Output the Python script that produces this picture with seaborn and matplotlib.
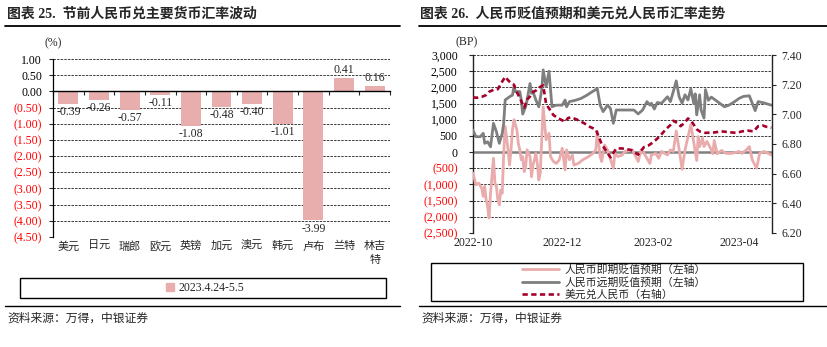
import numpy as np
import pandas as pd
import matplotlib
matplotlib.use("Agg")
import matplotlib.pyplot as plt
import matplotlib.dates as mdates
from matplotlib.patches import Rectangle, Patch
from matplotlib.lines import Line2D
import seaborn as sns

# ---------------- data: currency moves before the holiday ----------------
currencies = ["美元", "日元", "瑞郎", "欧元", "英镑", "加元", "澳元", "韩元", "卢布", "兰特", "林吉\n特"]
cny_change_pct = [-0.39, -0.26, -0.57, -0.11, -1.08, -0.48, -0.40, -1.01, -3.99, 0.41, 0.16]
period_label = "2023.4.24-5.5"
pct_ticks = [1.0, 0.5, 0.0, -0.5, -1.0, -1.5, -2.0, -2.5, -3.0, -3.5, -4.0, -4.5]

# ---------------- data: depreciation expectations (BP) and USD/CNY ----------------
spot_dates = [
    "2022-10-01", "2022-10-03", "2022-10-05", "2022-10-07", "2022-10-08", "2022-10-09", "2022-10-10",
    "2022-10-11", "2022-10-12", "2022-10-13", "2022-10-15", "2022-10-16", "2022-10-17", "2022-10-18",
    "2022-10-19", "2022-10-20", "2022-10-21", "2022-10-22", "2022-10-23", "2022-10-25", "2022-10-26",
    "2022-10-27", "2022-10-28", "2022-10-29", "2022-10-31", "2022-11-01", "2022-11-02", "2022-11-03",
    "2022-11-04", "2022-11-05", "2022-11-06", "2022-11-07", "2022-11-09", "2022-11-10", "2022-11-11",
    "2022-11-12", "2022-11-13", "2022-11-14", "2022-11-15", "2022-11-16", "2022-11-17", "2022-11-18",
    "2022-11-20", "2022-11-22", "2022-11-23", "2022-11-25", "2022-11-27", "2022-11-29", "2022-12-01",
    "2022-12-03", "2022-12-04", "2022-12-06", "2022-12-08", "2022-12-09", "2022-12-12", "2022-12-15",
    "2022-12-19", "2022-12-22", "2022-12-24", "2022-12-25", "2022-12-27", "2022-12-28", "2022-12-30",
    "2023-01-01", "2023-01-05", "2023-01-06", "2023-01-08", "2023-01-11", "2023-01-13", "2023-01-18",
    "2023-01-22", "2023-01-24", "2023-01-26", "2023-01-30", "2023-01-31", "2023-02-03", "2023-02-05",
    "2023-02-07", "2023-02-09", "2023-02-11", "2023-02-13", "2023-02-15", "2023-02-17", "2023-02-19",
    "2023-02-21", "2023-02-23", "2023-02-27", "2023-03-03", "2023-03-04", "2023-03-05", "2023-03-07",
    "2023-03-08", "2023-03-10", "2023-03-13", "2023-03-14", "2023-03-15", "2023-03-17", "2023-03-20",
    "2023-03-23", "2023-03-27", "2023-04-01", "2023-04-03", "2023-04-06", "2023-04-08", "2023-04-10",
    "2023-04-13", "2023-04-15", "2023-04-18", "2023-04-21", "2023-04-23",
]
spot_bp = [
    -650, -1010, -960, -1120, -1370, -1060, -1480,
    -1680, -2040, -1270, -190, -960, -1070, -1480,
    -1630, -1170, -1270, -40, 790, 70, -400,
    70, 690, 1000, 690, 270, 70, -240,
    -140, -600, -450, 70, -140, -760, -400,
    -240, -40, -350, -860, -650, 380, 1400,
    380, 580, -140, -290, -350, -240, 120,
    -550, 70, -240, -90, -400, -350, -240,
    -140, -40, 70, 630, -140, -290, 220,
    70, -500, -40, -140, -90, 20, 70,
    -290, 70, -40, -350, -90, -40, -190,
    20, -40, -90, 70, 20, 650, 70,
    -530, 70, 850, -260, 480, 170, 430,
    170, 330, 70, -50, 360, -50, 50,
    -40, -40, 20, -40, 70, 170, -240,
    -500, -40, 20, -40, -90,
]

fwd_dates = [
    "2022-10-01", "2022-10-03", "2022-10-06", "2022-10-08", "2022-10-09", "2022-10-11", "2022-10-13",
    "2022-10-15", "2022-10-17", "2022-10-19", "2022-10-21", "2022-10-22", "2022-10-23", "2022-10-26",
    "2022-10-28", "2022-10-29", "2022-10-30", "2022-11-02", "2022-11-03", "2022-11-04", "2022-11-06",
    "2022-11-07", "2022-11-09", "2022-11-10", "2022-11-11", "2022-11-13", "2022-11-15", "2022-11-17",
    "2022-11-18", "2022-11-20", "2022-11-22", "2022-11-24", "2022-11-27", "2022-12-01", "2022-12-03",
    "2022-12-04", "2022-12-06", "2022-12-10", "2022-12-14", "2022-12-18", "2022-12-21", "2022-12-25",
    "2022-12-27", "2022-12-29", "2023-01-01", "2023-01-03", "2023-01-05", "2023-01-07", "2023-01-12",
    "2023-01-19", "2023-01-22", "2023-01-25", "2023-01-28", "2023-01-30", "2023-01-31", "2023-02-02",
    "2023-02-04", "2023-02-07", "2023-02-09", "2023-02-11", "2023-02-13", "2023-02-15", "2023-02-17",
    "2023-02-19", "2023-02-21", "2023-02-23", "2023-02-25", "2023-02-27", "2023-03-01", "2023-03-02",
    "2023-03-03", "2023-03-05", "2023-03-06", "2023-03-08", "2023-03-09", "2023-03-11", "2023-03-13",
    "2023-03-16", "2023-03-19", "2023-03-22", "2023-03-25", "2023-03-29", "2023-04-01", "2023-04-04",
    "2023-04-08", "2023-04-12", "2023-04-14", "2023-04-18", "2023-04-23",
]
fwd_bp = [
    680, 475, 475, 580, 270, 320, 165,
    890, 630, 270, 580, 890, 1610, 1710,
    1760, 2020, 1870, 1870, 1610, 1175, 1400,
    1610, 2120, 1815, 1870, 1610, 1400, 1920,
    2540, 2020, 2500, 1400, 1450, 1450, 1610,
    1400, 1560, 1600, 1660, 1760, 1850, 1960,
    1450, 1250, 1450, 1350, 890, 1300, 1300,
    1300, 1180, 1300, 1560, 1450, 1510, 1330,
    1530, 1510, 1610, 1710, 1560, 1870, 2200,
    1710, 1510, 1770, 1610, 1950, 1500, 1800,
    1150, 1770, 1300, 1050, 1930, 1600, 1700,
    1600, 1500, 1400, 1450, 1560, 1660, 1720,
    1740, 1280, 1560, 1520, 1450,
]

usdcny_dates = [
    "2022-10-01", "2022-10-04", "2022-10-07", "2022-10-10", "2022-10-12", "2022-10-15", "2022-10-18",
    "2022-10-20", "2022-10-23", "2022-10-25", "2022-10-27", "2022-10-29", "2022-10-31", "2022-11-03",
    "2022-11-05", "2022-11-07", "2022-11-09", "2022-11-11", "2022-11-13", "2022-11-15", "2022-11-17",
    "2022-11-18", "2022-11-20", "2022-11-22", "2022-11-25", "2022-11-28", "2022-11-30", "2022-12-03",
    "2022-12-05", "2022-12-07", "2022-12-11", "2022-12-16", "2022-12-20", "2022-12-24", "2022-12-26",
    "2022-12-28", "2022-12-31", "2023-01-03", "2023-01-05", "2023-01-07", "2023-01-11", "2023-01-17",
    "2023-01-22", "2023-01-26", "2023-01-29", "2023-02-01", "2023-02-03", "2023-02-06", "2023-02-10",
    "2023-02-13", "2023-02-15", "2023-02-18", "2023-02-20", "2023-02-23", "2023-02-25", "2023-02-27",
    "2023-03-01", "2023-03-03", "2023-03-05", "2023-03-09", "2023-03-15", "2023-03-20", "2023-03-25",
    "2023-03-30", "2023-04-03", "2023-04-07", "2023-04-11", "2023-04-14", "2023-04-17", "2023-04-20",
    "2023-04-23",
]
usdcny = [
    7.114, 7.112, 7.118, 7.130, 7.152, 7.165, 7.170,
    7.205, 7.253, 7.230, 7.210, 7.200, 7.150, 7.090,
    7.045, 7.100, 7.120, 7.150, 7.160, 7.180, 7.190,
    7.196, 7.070, 7.040, 6.995, 6.975, 6.965, 6.950,
    6.975, 6.980, 6.965, 6.940, 6.915, 6.898, 6.848,
    6.800, 6.755, 6.710, 6.740, 6.770, 6.770, 6.760,
    6.728, 6.780, 6.790, 6.810, 6.827, 6.855, 6.900,
    6.928, 6.957, 6.940, 6.920, 6.945, 6.972, 6.960,
    6.930, 6.900, 6.885, 6.875, 6.878, 6.885, 6.880,
    6.875, 6.885, 6.890, 6.885, 6.920, 6.925, 6.915,
    6.910,
]
bp_ticks = [3000, 2500, 2000, 1500, 1000, 500, 0, -500, -1000, -1500, -2000, -2500]
fx_ticks = [6.2, 6.4, 6.6, 6.8, 7.0, 7.2, 7.4]
month_ticks = ["2022-10-01", "2022-12-01", "2023-02-01", "2023-04-01"]
month_labels = ["2022-10", "2022-12", "2023-02", "2023-04"]
series_names = ["人民币即期贬值预期（左轴）", "人民币远期贬值预期（左轴）", "美元兑人民币（右轴）"]

# ---------------- style ----------------
sns.set_style("white")
plt.rcParams["font.family"] = ["Liberation Serif", "Noto Sans CJK SC"]
plt.rcParams["axes.unicode_minus"] = False
CJK = ["Noto Sans CJK SC"]
MIX = ["Liberation Serif", "Noto Sans CJK SC"]

BAR_PINK = "#E8AEAE"
SPOT_PINK = "#E9ABAB"
FWD_GREY = "#7F7F7F"
USD_RED = "#A6002A"
NEG_RED = "#FF0000"
GRID_KW = dict(color="#3a3a3a", linestyle=(0, (2.5, 1.2)), linewidth=0.7)

W, H = 828, 347
fig = plt.figure(figsize=(W / 100, H / 100), dpi=100)


def fx(px):
    return px / W


def fy(py):
    return 1 - py / H


def axes_rect(x0, y0, x1, y1):
    return [fx(x0), fy(y1), (x1 - x0) / W, (y1 - y0) / H]


# ---------------- headers, rules and sources ----------------
fig.text(fx(7), fy(14), "图表 25.  节前人民币兑主要货币汇率波动", family=MIX, weight="bold",
         fontsize=10, va="center", ha="left")
fig.text(fx(420), fy(14), "图表 26.  人民币贬值预期和美元兑人民币汇率走势", family=MIX, weight="bold",
         fontsize=10, va="center", ha="left")
for x0, x1 in [(5, 400), (419, 828)]:
    fig.add_artist(Line2D([fx(x0), fx(x1)], [fy(26), fy(26)], color="black", lw=1.3))
    fig.add_artist(Line2D([fx(x0), fx(x1)], [fy(306), fy(306)], color="black", lw=1.0))
fig.text(fx(7), fy(318), "资料来源：万得，中银证券", family=CJK, fontsize=8.5, va="center", ha="left")
fig.text(fx(421), fy(318), "资料来源：万得，中银证券", family=CJK, fontsize=8.5, va="center", ha="left")

# ---------------- left panel: bar chart ----------------
ax = fig.add_axes(axes_rect(53, 59, 390, 237))
sns.barplot(x=currencies, y=cny_change_pct, color=BAR_PINK, saturation=1, width=0.65,
            edgecolor="none", ax=ax, zorder=3)
ax.set_xlim(-0.5, len(currencies) - 0.5)
ax.set_ylim(pct_ticks[-1], pct_ticks[0])
ax.set_xlabel("")
ax.set_ylabel("")
ax.set_yticks(pct_ticks)
ax.set_yticklabels([f"{t:.2f}" if t >= 0 else f"({-t:.2f})" for t in pct_ticks])
for lbl, t in zip(ax.get_yticklabels(), pct_ticks):
    lbl.set_color(NEG_RED if t < 0 else "black")
ax.tick_params(axis="y", direction="out", length=3, width=0.8, pad=5, labelsize=8.5, left=True)
for t in pct_ticks:
    if t != 0:
        ax.axhline(t, zorder=1, **GRID_KW)
for side in ["top", "right"]:
    ax.spines[side].set_visible(False)
ax.spines["left"].set_color("black")
ax.spines["left"].set_linewidth(0.9)
ax.spines["bottom"].set_position(("data", 0))
ax.spines["bottom"].set_color("black")
ax.spines["bottom"].set_linewidth(1.0)
ax.spines["bottom"].set_zorder(4)
ax.set_xticks(np.arange(-0.5, len(currencies), 1.0))
ax.set_xticklabels([])
ax.tick_params(axis="x", direction="out", length=3, width=0.8, bottom=True)
for i, name in enumerate(currencies):
    ax.text(i, -0.022, name, transform=ax.get_xaxis_transform(), family=CJK, fontsize=8,
            ha="center", va="top", linespacing=1.45)
ax.bar_label(ax.containers[0], fmt="{:.2f}", padding=1.5, fontsize=8.5, zorder=5)
fig.text(fx(53), fy(43), "(%)", fontsize=8.5, ha="center", va="center")

fig.add_artist(Rectangle((fx(20), fy(298)), (386 - 20) / W, (298 - 278) / H,
                         transform=fig.transFigure, fill=False, ec="black", lw=1.0))
fig.legend(handles=[Patch(color=BAR_PINK)], labels=[period_label], loc="center",
           bbox_to_anchor=(fx(205), fy(288)), bbox_transform=fig.transFigure, frameon=False,
           fontsize=8.5, handlelength=0.7, handleheight=0.7, handletextpad=0.3)

# ---------------- right panel: lines on two axes ----------------
axl = fig.add_axes(axes_rect(473, 55, 772, 233))
axr = axl.twinx()

sns.lineplot(x=pd.to_datetime(spot_dates), y=spot_bp, ax=axl, color=SPOT_PINK, lw=2.0,
             label=series_names[0], zorder=3)
sns.lineplot(x=pd.to_datetime(fwd_dates), y=fwd_bp, ax=axl, color=FWD_GREY, lw=2.0,
             label=series_names[1], zorder=4)
sns.lineplot(x=pd.to_datetime(usdcny_dates), y=usdcny, ax=axr, color=USD_RED, lw=1.9,
             label=series_names[2], zorder=5)
axr.lines[-1].set_dashes((2.0, 1.3))
for a in (axl, axr):
    if a.get_legend() is not None:
        a.get_legend().remove()

axl.set_xlim(mdates.date2num(pd.Timestamp("2022-10-01")), mdates.date2num(pd.Timestamp("2023-04-23 12:00")))
axl.set_ylim(bp_ticks[-1], bp_ticks[0])
axr.set_ylim(fx_ticks[0], fx_ticks[-1])
axl.set_xlabel("")
axl.set_ylabel("")
axr.set_ylabel("")

axl.set_yticks(bp_ticks)
axl.set_yticklabels([f"{t:,}" if t >= 0 else f"({-t:,})" for t in bp_ticks])
for lbl, t in zip(axl.get_yticklabels(), bp_ticks):
    lbl.set_color(NEG_RED if t < 0 else "black")
axr.set_yticks(fx_ticks)
axr.set_yticklabels([f"{t:.2f}" for t in fx_ticks])
axl.tick_params(axis="y", direction="out", length=3, width=0.8, pad=8, labelsize=8.5, left=True)
axr.tick_params(axis="y", direction="out", length=3, width=0.8, pad=4, labelsize=8.5, right=True)

axl.set_xticks([mdates.date2num(pd.Timestamp(d)) for d in month_ticks])
axl.set_xticklabels(month_labels)
axl.tick_params(axis="x", length=0, pad=3, labelsize=8.5)

for t in bp_ticks:
    if t != 0:
        axl.axhline(t, zorder=1, **GRID_KW)
axl.axhline(0, color="#808080", lw=1.8, zorder=2)
for a in (axl, axr):
    a.spines["top"].set_visible(False)
    a.spines["bottom"].set_visible(False)
    a.patch.set_visible(False)
axl.spines["left"].set_color("#222222")
axl.spines["left"].set_linewidth(1.0)
axr.spines["right"].set_color("#222222")
axr.spines["right"].set_linewidth(1.0)
axr.spines["left"].set_visible(False)
axl.spines["right"].set_visible(False)
fig.text(fx(467), fy(42), "(BP)", fontsize=8.5, ha="center", va="center")

fig.add_artist(Rectangle((fx(431), fy(301)), (803 - 431) / W, (301 - 263) / H,
                         transform=fig.transFigure, fill=False, ec="black", lw=1.0))
handles = axl.get_lines()[:2] + [axr.get_lines()[0]]
fig.legend(handles=handles, labels=series_names, loc="center",
           bbox_to_anchor=(fx(614), fy(282)), bbox_transform=fig.transFigure, frameon=False,
           prop={"family": CJK, "size": 7.8}, handlelength=3.4, handletextpad=0.5,
           labelspacing=0.2, borderpad=0.1)

fig.savefig("out.png", dpi=100)
